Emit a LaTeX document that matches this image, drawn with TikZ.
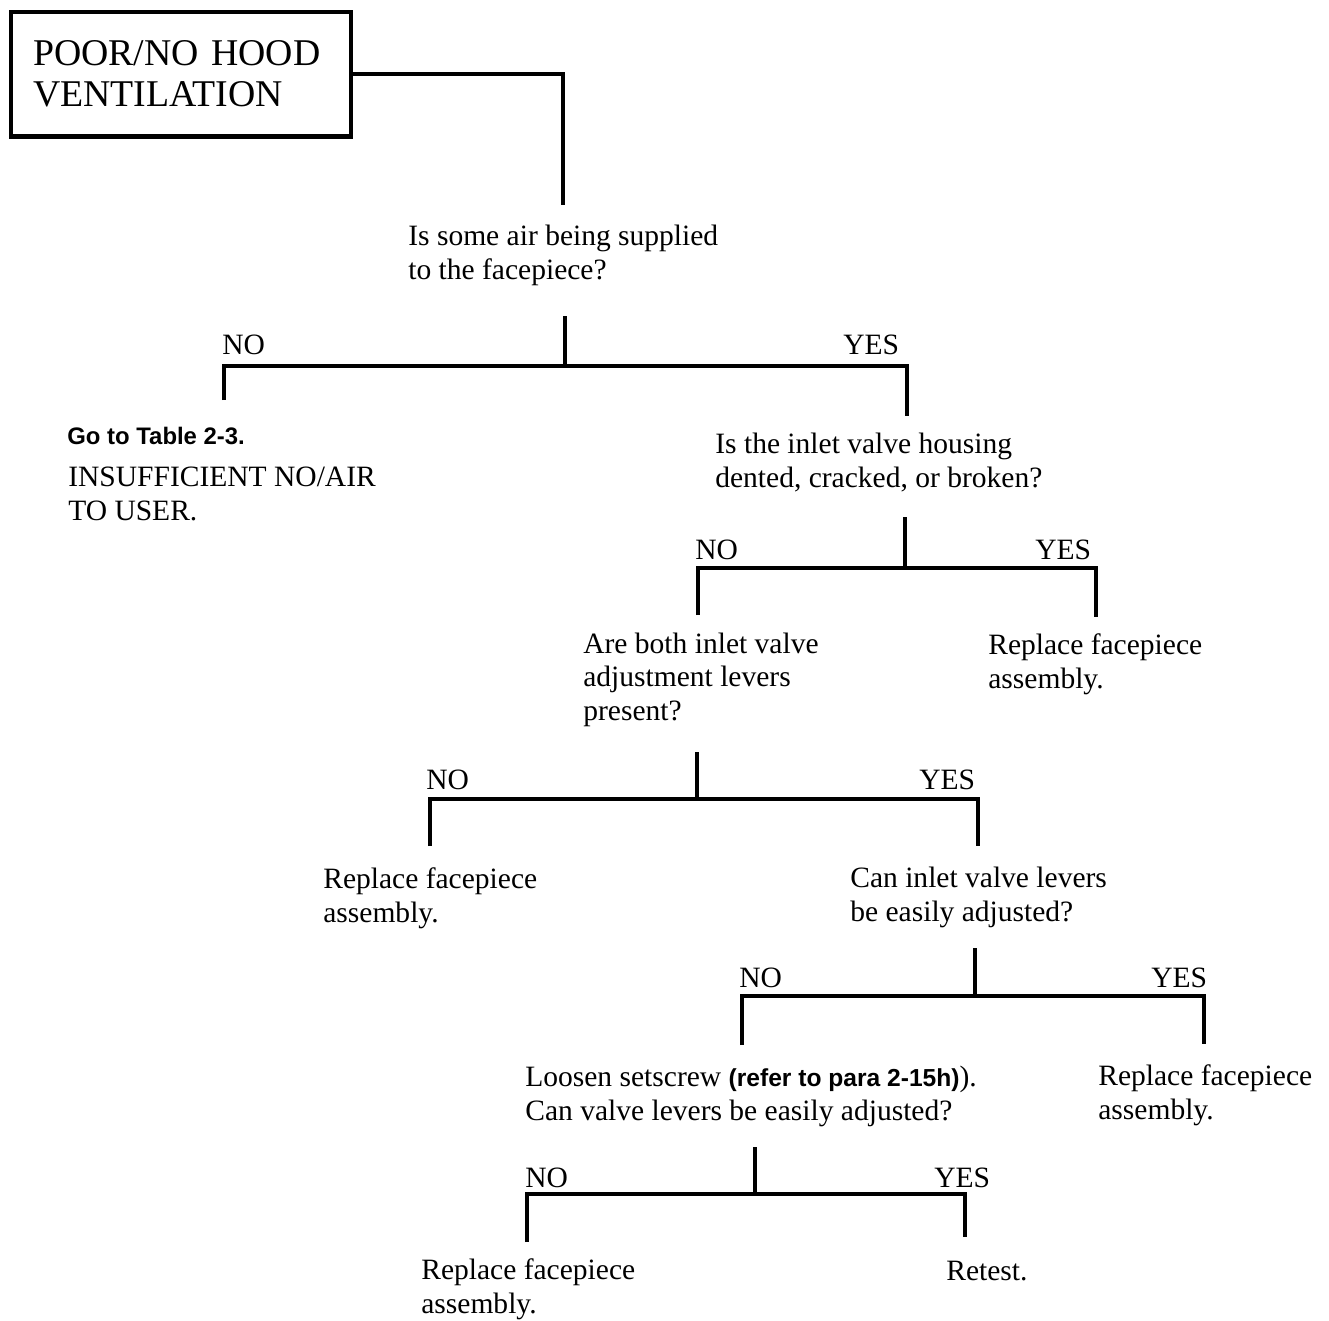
\documentclass[tikz,border=0pt]{standalone}
\usepackage{fontspec}
\setmainfont{Liberation Serif}
\newfontfamily\refsans{Liberation Sans}
\usetikzlibrary{positioning}
\definecolor{treeInk}{HTML}{000000}
\tikzset{
  tree/base/.style={inner sep=0pt, anchor=base west, align=left,
    text=treeInk, font=\fontsize{16.8}{18.8}\selectfont},
  tree/question/.style={tree/base},
  tree/result/.style={tree/base},
  tree/answer/.style={tree/base},
  tree/goto/.style={tree/base, font=\refsans\bfseries\fontsize{13.6}{16}\selectfont},
  tree/title/.style={draw=treeInk, line width=2.3pt, rectangle, align=left,
    inner xsep=0.44cm, inner ysep=0pt, text width=5.92cm,
    minimum height=2.5cm, font=\fontsize{21.5}{23.3}\selectfont},
  tree/line/.style={draw=treeInk, line width=2.3pt, line join=miter},
}

\begin{document}
\begin{tikzpicture}[x=0.02cm, y=-0.02cm]
\useasboundingbox (0,0) rectangle (1329,1320);
% start (multi-line nodes sit on their last baseline)
\node[tree/title] (title) at (181,74) {POOR/NO HOOD\\VENTILATION};
\coordinate (top) at (563,205);
\draw[tree/line] (title.east) -| (top);

% first question
\node[tree/question] (q1) at (408,279) {Is some air being supplied\\to the facepiece?};
\node[tree/answer] (no1) at (222,354) {NO};
\node[tree/answer] (yes1) at (843,354) {YES};
\node[tree/goto] (goto) at (67,444) {Go to Table 2-3.};
\node[tree/result] (insuff) at (68,520) {INSUFFICIENT NO/AIR\\TO USER.};
\coordinate (s1) at (565,316);
\coordinate (f1) at (565,366);
\coordinate (n1) at (224,400);
\coordinate (y1) at (907,416);
\draw[tree/line] (s1) -- (f1);
\draw[tree/line] (n1) |- (f1) -| (y1);

% housing
\node[tree/question] (q2) at (715,487) {Is the inlet valve housing\\dented, cracked, or broken?};
\node[tree/answer] (no2) at (695,559) {NO};
\node[tree/answer] (yes2) at (1035,559) {YES};
\node[tree/result] (r2) at (988,688) {Replace facepiece\\assembly.};
\coordinate (s2) at (905,517);
\coordinate (f2) at (905,568);
\coordinate (n2) at (698,615);
\coordinate (y2) at (1096,617);
\draw[tree/line] (s2) -- (f2);
\draw[tree/line] (n2) |- (f2) -| (y2);

% levers present
\node[tree/question] (q3) at (583,720) {Are both inlet valve\\adjustment levers\\present?};
\node[tree/answer] (no3) at (426,789) {NO};
\node[tree/answer] (yes3) at (919,789) {YES};
\node[tree/result] (r3) at (323,922) {Replace facepiece\\assembly.};
\coordinate (s3) at (697,752);
\coordinate (f3) at (697,799);
\coordinate (n3) at (430,846);
\coordinate (y3) at (978,846);
\draw[tree/line] (s3) -- (f3);
\draw[tree/line] (n3) |- (f3) -| (y3);

% levers adjusted
\node[tree/question] (q4) at (850,921) {Can inlet valve levers\\be easily adjusted?};
\node[tree/answer] (no4) at (739,987) {NO};
\node[tree/answer] (yes4) at (1151,987) {YES};
\node[tree/result] (r4) at (1098,1119) {Replace facepiece\\assembly.};
\coordinate (s4) at (975,948);
\coordinate (f4) at (975,996);
\coordinate (n4) at (742,1045);
\coordinate (y4) at (1204,1044);
\draw[tree/line] (s4) -- (f4);
\draw[tree/line] (n4) |- (f4) -| (y4);

% setscrew
\node[tree/question] (q5) at (525,1120) {Loosen setscrew {\refsans\bfseries\fontsize{14}{16}\selectfont(refer to para 2-15h)}).\\Can valve levers be easily adjusted?};
\node[tree/answer] (no5) at (525,1187) {NO};
\node[tree/answer] (yes5) at (934,1187) {YES};
\node[tree/result] (r5) at (421,1313) {Replace facepiece\\assembly.};
\node[tree/result] (retest) at (946,1280) {Retest.};
\coordinate (s5) at (755,1147);
\coordinate (f5) at (755,1194);
\coordinate (n5) at (527,1242);
\coordinate (y5) at (965,1237);
\draw[tree/line] (s5) -- (f5);
\draw[tree/line] (n5) |- (f5) -| (y5);
\end{tikzpicture}
\end{document}
